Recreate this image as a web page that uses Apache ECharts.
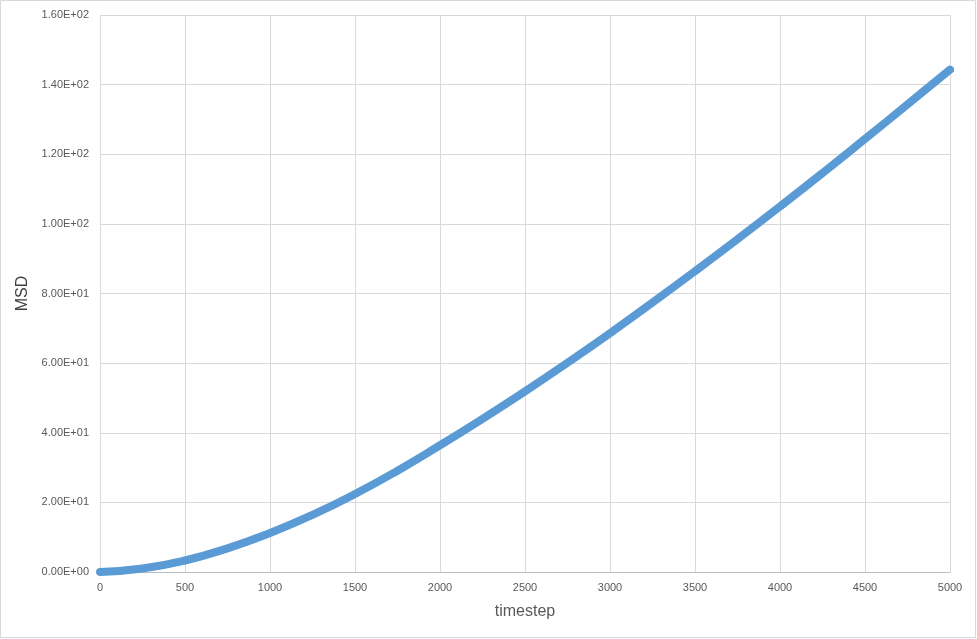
<!DOCTYPE html>
<html>
<head>
<meta charset="utf-8">
<script src="https://cdn.jsdelivr.net/npm/echarts@6/dist/echarts.min.js"></script>
<style>
html,body{margin:0;padding:0;background:#fff;}
#chart{width:977px;height:639px;}
</style>
</head>
<body>
<div id="chart"></div>
<script>
var timesteps = [0, 250, 500, 750, 1000, 1250, 1500, 1750, 2000, 2250, 2500, 2750, 3000, 3250, 3500, 3750, 4000, 4250, 4500, 4750, 5000];
var msd = [0, 1.0, 3.3, 6.8, 11.2, 16.4, 22.4, 29.1, 36.4, 44.0, 51.9, 60.1, 68.6, 77.4, 86.4, 95.6, 105.0, 114.6, 124.4, 134.3, 144.3];
var xTicks = {min: 0, max: 5000, interval: 500};
var yTicks = {min: 0, max: 160, interval: 20};

function sci(v) {
  if (v === 0) return '0.00E+00';
  var e = Math.floor(Math.log10(Math.abs(v)));
  var m = v / Math.pow(10, e);
  if (Math.abs(m) >= 9.995) { m /= 10; e += 1; }
  var es = (e < 0 ? '-' : '+') + (Math.abs(e) < 10 ? '0' : '') + Math.abs(e);
  return m.toFixed(2) + 'E' + es;
}

var points = timesteps.map(function (t, i) { return [t, msd[i]]; });
var chart = echarts.init(document.getElementById('chart'), null, {renderer: 'canvas'});
var font = '"Liberation Sans", "DejaVu Sans", sans-serif';
chart.setOption({
  animation: false,
  backgroundColor: '#ffffff',
  graphic: [{
    type: 'rect',
    shape: {x: 0.5, y: 0.5, width: 975, height: 637},
    style: {fill: 'none', stroke: '#d9d9d9', lineWidth: 1},
    silent: true
  }],
  grid: {left: 100, right: 27, top: 15, bottom: 67, containLabel: false},
  xAxis: {
    type: 'value',
    min: xTicks.min, max: xTicks.max, interval: xTicks.interval,
    name: 'timestep',
    nameLocation: 'middle',
    nameGap: 32,
    nameTextStyle: {fontSize: 16, color: '#595959', fontFamily: font},
    axisLine: {show: true, lineStyle: {color: '#bfbfbf', width: 1}},
    axisTick: {show: false},
    axisLabel: {fontSize: 11, color: '#595959', fontFamily: font, margin: 10,
      formatter: function (v) { return String(v); }},
    splitLine: {show: true, lineStyle: {color: '#d9d9d9', width: 1}}
  },
  yAxis: {
    type: 'value',
    min: yTicks.min, max: yTicks.max, interval: yTicks.interval,
    name: 'MSD',
    nameLocation: 'middle',
    nameGap: 62,
    nameRotate: 90,
    nameTextStyle: {fontSize: 16, color: '#404040', fontFamily: font},
    axisLine: {show: false},
    axisTick: {show: false},
    axisLabel: {fontSize: 11, color: '#595959', fontFamily: font, margin: 11, formatter: sci},
    splitLine: {show: true, lineStyle: {color: '#d9d9d9', width: 1}}
  },
  series: [{
    type: 'line',
    data: points,
    smooth: true,
    showSymbol: false,
    symbol: 'none',
    lineStyle: {color: '#5b9bd5', width: 8, cap: 'round', join: 'round'},
    silent: true
  }]
});
</script>
</body>
</html>
